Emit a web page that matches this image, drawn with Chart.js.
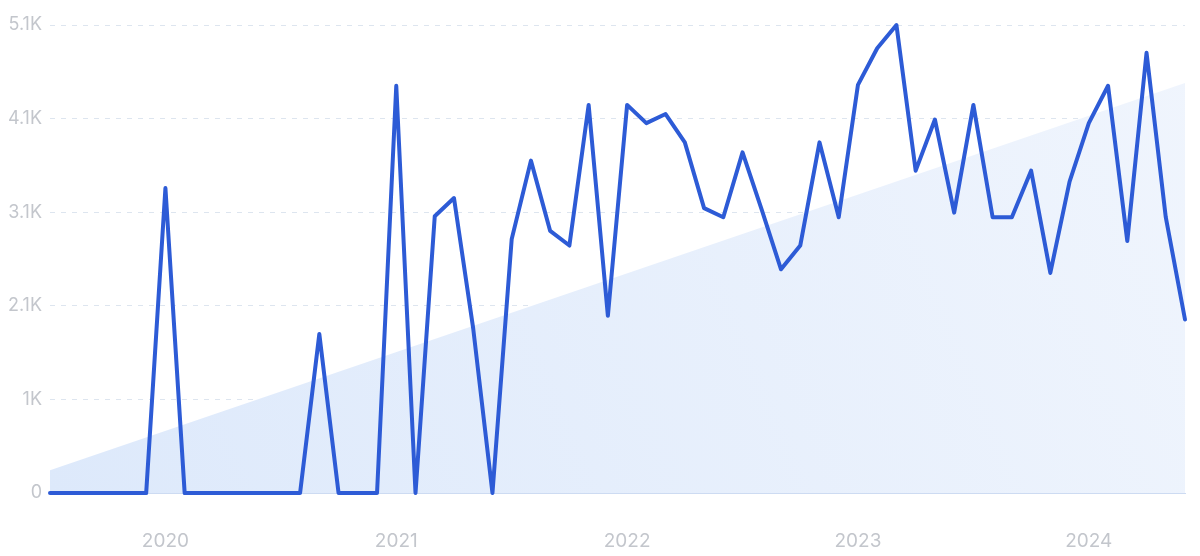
<!DOCTYPE html>
<html>
<head>
<meta charset="utf-8">
<script src="https://cdn.jsdelivr.net/npm/chart.js@4"></script>
<style>
  html, body { margin: 0; padding: 0; background: #ffffff; overflow: hidden; }
  #grafico { display: block; }
</style>
</head>
<body>
<canvas id="grafico" width="1200" height="556"></canvas>
<script>
// --- DADOS ---
// meses de 2019-07 até 2024-06
const months = [
  '2019-07','2019-08','2019-09','2019-10','2019-11','2019-12',
  '2020-01','2020-02','2020-03','2020-04','2020-05','2020-06','2020-07','2020-08','2020-09','2020-10','2020-11','2020-12',
  '2021-01','2021-02','2021-03','2021-04','2021-05','2021-06','2021-07','2021-08','2021-09','2021-10','2021-11','2021-12',
  '2022-01','2022-02','2022-03','2022-04','2022-05','2022-06','2022-07','2022-08','2022-09','2022-10','2022-11','2022-12',
  '2023-01','2023-02','2023-03','2023-04','2023-05','2023-06','2023-07','2023-08','2023-09','2023-10','2023-11','2023-12',
  '2024-01','2024-02','2024-03','2024-04','2024-05','2024-06'
];

const searches = [
  0, 0, 0, 0, 0, 0,
  3340, 0, 0, 0, 0, 0, 0, 0, 1740, 0, 0, 0,
  4460, 0, 3030, 3230, 1800, 0, 2780, 3640, 2870, 2710, 4250, 1940,
  4250, 4050, 4150, 3840, 3120, 3020, 3730, 3100, 2450, 2710, 3840, 3020,
  4470, 4870, 5125, 3530, 4090, 3070, 4250, 3020, 3020, 3530, 2410, 3410,
  4050, 4460, 2760, 4820, 3020, 1900
];

// linha de tendência (início e fim)
const trendPoints = [
  { x: '2019-07', y: 250 },
  { x: '2024-06', y: 4490 }
];

const yTickLabels = ['0', '1K', '2.1K', '3.1K', '4.1K', '5.1K'];
const yStep = 1025;
const yMax = 5125;

// --- CORES ---
const LINE_COLOR = '#2d5bd6';
const GRID_COLOR = '#dde5ef';
const TEXT_COLOR = '#c3c6cc';

function trendGradient(context) {
  const chart = context.chart;
  const area = chart.chartArea;
  if (!area) return 'rgba(225,236,251,1)';
  const g = chart.ctx.createLinearGradient(area.left, area.bottom, area.right, area.top);
  g.addColorStop(0, 'rgba(221,233,251,1)');
  g.addColorStop(1, 'rgba(240,245,253,1)');
  return g;
}

const ctx = document.getElementById('grafico').getContext('2d');
new Chart(ctx, {
  type: 'line',
  data: {
    labels: months,
    datasets: [
      {
        data: searches,
        borderColor: LINE_COLOR,
        borderWidth: 4,
        pointRadius: 0,
        tension: 0,
        borderJoinStyle: 'round',
        borderCapStyle: 'round',
        fill: false,
        clip: false
      },
      {
        data: trendPoints,
        borderWidth: 0,
        borderColor: 'rgba(0,0,0,0)',
        backgroundColor: trendGradient,
        pointRadius: 0,
        tension: 0,
        fill: 'origin'
      }
    ]
  },
  options: {
    responsive: false,
    animation: false,
    layout: { padding: { top: 25, right: 15, left: 0, bottom: 0 } },
    plugins: {
      legend: { display: false },
      tooltip: { enabled: false }
    },
    scales: {
      x: {
        offset: false,
        // marcas invisíveis só para afastar os rótulos do eixo
        grid: {
          display: true,
          drawOnChartArea: false,
          drawTicks: true,
          tickLength: 27,
          tickColor: 'rgba(0,0,0,0)',
          color: 'rgba(0,0,0,0)'
        },
        border: { display: true, color: '#cddbf2', width: 1 },
        ticks: {
          autoSkip: false,
          maxRotation: 0,
          padding: 10,
          color: TEXT_COLOR,
          font: { family: 'Inter', size: 19 },
          callback: function (value, index) {
            const m = months[index];
            return m.endsWith('-01') ? m.slice(0, 4) : '';
          }
        },
        afterFit: function (scale) { scale.height = 63; }
      },
      y: {
        min: 0,
        max: yMax,
        grid: {
          drawTicks: false,
          color: function (c) { return c.tick && c.tick.value === 0 ? 'rgba(0,0,0,0)' : GRID_COLOR; },
          lineWidth: 1
        },
        border: { display: false, dash: [5, 6] },
        ticks: {
          stepSize: yStep,
          padding: 8,
          color: TEXT_COLOR,
          font: { family: 'Inter', size: 18 },
          callback: function (value, index) { return yTickLabels[index]; }
        },
        afterFit: function (scale) { scale.width = 50; }
      }
    }
  }
});
</script>
</body>
</html>
